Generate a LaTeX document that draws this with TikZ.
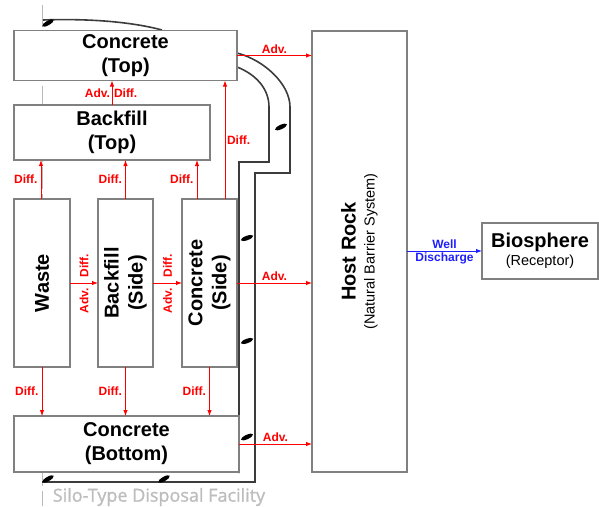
\documentclass[tikz,border=0pt]{standalone}
\usepackage{fontspec}
\setmainfont{Liberation Sans}
\newfontfamily\silofont{Open Sans}[FakeBold=1.2]
\usetikzlibrary{arrows.meta,calc}
\definecolor{boxgray}{HTML}{808080}
\definecolor{wallgray}{HTML}{3C3C3C}
\definecolor{flowred}{HTML}{FF0000}
\definecolor{flowblue}{HTML}{1E1EFF}
\definecolor{captiongray}{HTML}{BDBDBD}
\tikzset{
  flow/.style={-{Latex[length=6pt,width=4.5pt]},draw=flowred,line width=1pt},
  wellflow/.style={flow,draw=flowblue},
  lbl/.style={font=\fontsize{12}{12}\selectfont\bfseries,text=flowred,inner sep=1.5pt},
  wlbl/.style={lbl,text=flowblue},
  comp/.style={draw=boxgray,line width=1.8pt,fill=white,align=center,inner sep=0pt,outer sep=0pt,
               font=\fontsize{20}{24}\selectfont\bfseries},
  sidetxt/.style={rotate=90,align=center,font=\fontsize{20}{24}\selectfont\bfseries},
  wall/.style={draw=wallgray,line width=1.6pt},
  axis/.style={draw=gray!55,line width=0.9pt,dash pattern=on 22pt off 5pt},
  rivet/.style={fill=black}
}
\begin{document}
\begin{tikzpicture}[x=1pt,y=-1pt]
  \useasboundingbox (0,0) rectangle (599,506);
  % axis and walls of the silo
  \draw[axis] (42,5) -- (42,506);
  \draw[wall] (43,20) .. controls (100,18) and (140,24) .. (162,30);
  \draw[wall] (237,67) .. controls (255,74) and (269,88) .. (269,107) -- (269,162) -- (239,162) -- (239,473);
  \draw[wall] (237,53) .. controls (264,60) and (290,84) .. (290,107) -- (290,173) -- (255,173) -- (255,482) -- (42,482);
  \foreach \x/\y/\a in {48/23/30,281/127/25,247/238/20,247/341/20,247/437/25,48/479/30,164/479/30}
    \fill[rivet,shift={(\x,\y)},rotate=\a] (0,0) ellipse (6.5 and 2.2);
  \node[comp,minimum width=223,minimum height=50] (ctop) at (125.5,55.5) {Concrete\\(Top)};
  \node[comp,minimum width=196,minimum height=55] (bftop) at (112,132.5) {Backfill\\(Top)};
  \node[comp,minimum width=56,minimum height=168] (waste) at (42,283) {};
  \node[comp,minimum width=55,minimum height=168] (bfside) at (125.5,283) {};
  \node[comp,minimum width=55,minimum height=168] (cside) at (209.5,283) {};
  \node[sidetxt] (waste-t) at (waste) {Waste};
  \node[sidetxt] (bfside-t) at (bfside) {Backfill\\(Side)};
  \node[sidetxt] (cside-t) at (cside) {Concrete\\(Side)};
  \node[comp,minimum width=225,minimum height=56] (cbot) at (126.5,444) {Concrete\\(Bottom)};
  \node[comp,minimum width=95,minimum height=441] (host) at (359.5,251.5) {};
  \node[sidetxt,font=\fontsize{14.5}{19}\selectfont] (host-t) at (host)
    {{\fontsize{20}{20}\selectfont\bfseries Host Rock}\\(Natural Barrier System)};
  \node[comp,minimum width=116,minimum height=56,font=\fontsize{14.5}{18}\selectfont] (bio) at (540,251)
    {{\fontsize{20}{20}\selectfont\bfseries Biosphere}\\(Receptor)};
  \node[font=\silofont\fontsize{18}{20}\selectfont,text=captiongray] (caption) at (159,497) {Silo-Type Disposal Facility};
  \draw[flow] (bftop.north) -- (bftop.north |- ctop.south)
    node[midway,lbl,left]{Adv.} node[midway,lbl,right]{Diff.};
  \draw[flow] ($(cside.north)+(15.5,0)$) -- ($(cside.north |- ctop.south)+(15.5,0)$) node[midway,lbl,right]{Diff.};
  \foreach \n/\dx in {waste/-1,bfside/0,cside/-12.5}{
    \draw[flow] ($(\n.north)+(\dx,0)$) -- ($(\n.north |- bftop.south)+(\dx,0)$) node[midway,lbl,left,inner xsep=3pt]{Diff.};
    \draw[flow] (\n.south) -- (\n.south |- cbot.north) node[midway,lbl,left,inner xsep=3pt]{Diff.};
  }
  \draw[flow] (waste.east) -- (bfside.west)
    node[midway,lbl,rotate=90,anchor=west,inner xsep=5pt]{Diff.} node[midway,lbl,rotate=90,anchor=east,inner xsep=5pt]{Adv.};
  \draw[flow] (bfside.east) -- (cside.west)
    node[midway,lbl,rotate=90,anchor=west,inner xsep=5pt]{Diff.} node[midway,lbl,rotate=90,anchor=east,inner xsep=5pt]{Adv.};
  \draw[flow] (ctop.east) -- (ctop.east -| host.west) node[midway,lbl,above]{Adv.};
  \draw[flow] (cside.east) -- (cside.east -| host.west) node[midway,lbl,above]{Adv.};
  \draw[flow] (cbot.east) -- (cbot.east -| host.west) node[midway,lbl,above]{Adv.};
  \draw[wellflow] (host.east |- bio.west) -- (bio.west)
    node[midway,wlbl,above]{Well} node[midway,wlbl,below]{Discharge};
\end{tikzpicture}
\end{document}
